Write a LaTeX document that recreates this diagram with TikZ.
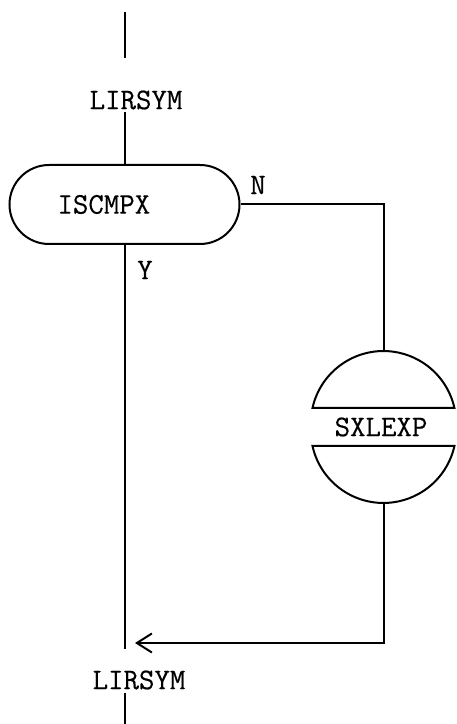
\documentclass[tikz,border=0pt]{standalone}
\usepackage{fontspec}
\newfontfamily\twfont{Latin Modern Mono}[FakeBold=0.3]
\usetikzlibrary{arrows.meta,calc}
\begin{document}
\begin{tikzpicture}[x=1pt,y=1pt,
  every path/.style={line width=2pt},
  lbl/.style={font=\fontsize{30}{33}\selectfont\twfont, inner sep=0pt},
  stadium/.style={draw, line width=2pt, rounded corners=39.5pt, minimum height=79pt,
     text width=134pt, inner xsep=48pt, align=left,
     font=\fontsize{30}{33}\selectfont\twfont},
  barb/.style={-{Straight Barb[length=15pt,width=19pt,line width=2pt]}}
]
\useasboundingbox (0,0) rectangle (457,724);
% free ends
\coordinate (a1) at (125,712);
\coordinate (a2) at (125,666);
\coordinate (a3) at (125,612);
\coordinate (a4) at (125,75);
\coordinate (tip) at (135,81);
\coordinate (b1) at (125,31);
\coordinate (b2) at (125,0);
% nodes
\node[lbl] (l1) at (136,624) {LIRSYM};
\node[stadium] (isc) at (124.5,519.5) {ISCMPX};
\node[lbl] (n) at (258,539) {N};
\node[lbl] (y) at (145,454) {Y};
\node[lbl] (sx) at (381,297) {SXLEXP};
\coordinate (sxc) at (383.5,297);
\coordinate (sxtop) at ($(sxc)+(0,76)$);
\coordinate (sxbot) at ($(sxc)+(0,-76)$);
\node[lbl] (l2) at (139,44) {LIRSYM};
% SXLEXP shape: two circular segments
\draw[line width=2pt] ($(sxc)+(-71,19)$) arc[start angle=167.5, end angle=12.5, radius=72.7] -- cycle;
\draw[line width=2pt] ($(sxc)+(-71,-19)$) arc[start angle=192.5, end angle=347.5, radius=72.7] -- cycle;
% connectors
\draw[line width=2pt] (a1) -- (a2);
\draw[line width=2pt] (a3) -- (a3 |- isc.north);
\draw[line width=2pt] (isc.east) -| (sxtop);
\draw[line width=2pt] (a4 |- isc.south) -- (a4);
\draw[line width=2pt, barb] (sxbot) |- (tip);
\draw[line width=2pt] (b1) -- (b2);
\end{tikzpicture}
\end{document}
